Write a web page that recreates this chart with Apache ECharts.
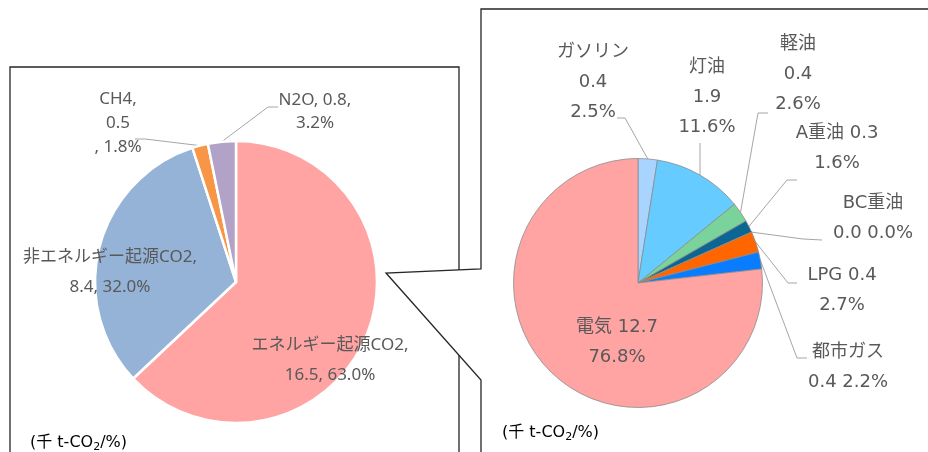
<!DOCTYPE html>
<html>
<head>
<meta charset="utf-8">
<script src="https://cdn.jsdelivr.net/npm/echarts@6/dist/echarts.min.js"></script>
<style>
html, body { margin: 0; padding: 0; background: #fff; }
#main { width: 928px; height: 452px; }
</style>
</head>
<body>
<div id="main"></div>
<script>
// left pie: GHG by gas (千 t-CO2)
const gasNames = ['エネルギー起源CO2', '非エネルギー起源CO2', 'CH4', 'N2O']
const gasValues = ['16.5', '8.4', '0.5', '0.8']
const gasPct = [63.0, 32.0, 1.8, 3.2]
const gasColors = ['#FFA3A3', '#95B3D7', '#F79646', '#B3A2C7']

// right pie: energy CO2 by fuel
const fuelNames = ['ガソリン', '灯油', '軽油', 'A重油', 'BC重油', 'LPG', '都市ガス', '電気']
const fuelValues = ['0.4', '1.9', '0.4', '0.3', '0.0', '0.4', '0.4', '12.7']
const fuelPct = [2.5, 11.6, 2.6, 1.6, 0.0, 2.7, 2.2, 76.8]
const fuelColors = ['#A9D4FF', '#66CCFF', '#7AD39A', '#0B6694', '#1F3864', '#FF6600', '#0A7CFF', '#FFA3A3']

const unitText = '{a|(千 t-CO}{s|2}{a|/%)}'

// label text layouts (not data)
const pct = (v) => v.toFixed(1) + '%'
const gasText = [
    (i) => gasNames[i] + ',\n' + gasValues[i] + ', ' + pct(gasPct[i]),
    (i) => gasNames[i] + ',\n' + gasValues[i] + ', ' + pct(gasPct[i]),
    (i) => gasNames[i] + ',\n' + gasValues[i] + '\n, ' + pct(gasPct[i]),
    (i) => gasNames[i] + ', ' + gasValues[i] + ',\n' + pct(gasPct[i])
]
const gasLabelPos = [[330, 360], [110, 272], [118, 123], [315, 112]]
const gasLineHeight = [30, 30, 24, 23]
// leader: [elbow, end] ; start point comes from the slice
const gasLeader = [null, null, [[145, 139], [135, 139]], [[268, 107], [278, 107]]]

const threeLine = (i) => fuelNames[i] + '\n' + fuelValues[i] + '\n' + pct(fuelPct[i])
const nameVal = (i) => fuelNames[i] + ' ' + fuelValues[i] + '\n' + pct(fuelPct[i])
const nameOnly = (i) => fuelNames[i] + '\n' + fuelValues[i] + ' ' + pct(fuelPct[i])
const fuelText = [threeLine, threeLine, threeLine, nameVal, nameOnly, nameVal, nameOnly, nameVal]
const fuelLabelPos = [[593, 82], [707, 97], [798, 74], [837, 148], [873, 218], [842, 290], [848, 367], [617, 342]]
const fuelLeader = [
    [[625, 118], [617, 118]],
    [[700, 150], [700, 143]],
    [[758, 113], [768, 113]],
    [[787, 180], [797, 180]],
    [[803, 239], [822, 240]],
    [[788, 283], [797, 283]],
    [[797, 358], [807, 358]],
    null
]

const latinFont = "'Noto Sans', 'Noto Sans CJK JP', sans-serif"
const fontFam = "'DejaVu Sans', 'Noto Sans CJK JP', sans-serif"
const textColor = '#595959'

const gasData = gasNames.map((n, i) => ({
    name: n,
    value: gasPct[i],
    itemStyle: { color: gasColors[i] },
    label: { formatter: gasText[i](i), lineHeight: gasLineHeight[i] },
    labelLine: { show: !!gasLeader[i] }
}))

const fuelData = fuelNames.map((n, i) => ({
    name: n,
    value: fuelPct[i],
    itemStyle: { color: fuelColors[i] },
    label: { formatter: fuelText[i](i) },
    labelLine: { show: !!fuelLeader[i] }
}))

function makeLayout(pos, leaders) {
    return (p) => {
        const out = {
            x: pos[p.dataIndex][0],
            y: pos[p.dataIndex][1],
            align: 'center',
            verticalAlign: 'middle'
        }
        const ld = leaders[p.dataIndex]
        if (ld && p.labelLinePoints) {
            out.labelLinePoints = [p.labelLinePoints[0], ld[0], ld[1]]
        }
        return out
    }
}

const chart = echarts.init(document.getElementById('main'), null, { renderer: 'canvas' })

const captionRich = {
    a: { fontFamily: fontFam, fontSize: 16, color: '#404040', lineHeight: 20 },
    s: { fontFamily: fontFam, fontSize: 11, color: '#404040', lineHeight: 12, verticalAlign: 'bottom' }
}

const option = {
    backgroundColor: '#fff',
    animation: false,
    graphic: [
        {
            type: 'rect',
            shape: { x: 10, y: 67, width: 449, height: 420 },
            style: { fill: '#fff', stroke: '#262626', lineWidth: 1.3 }
        },
        {
            type: 'polygon',
            shape: {
                points: [[481, 9], [950, 9], [950, 470], [481, 470], [481, 380], [386, 273], [481, 269]]
            },
            style: { fill: '#fff', stroke: '#262626', lineWidth: 1.3 }
        },
        {
            type: 'text',
            x: 30, y: 443,
            style: { text: unitText, verticalAlign: 'middle', rich: captionRich }
        },
        {
            type: 'text',
            x: 502, y: 433,
            style: { text: unitText, verticalAlign: 'middle', rich: captionRich }
        }
    ],
    series: [
        {
            type: 'pie',
            center: [236, 282],
            radius: 141,
            startAngle: 90,
            clockwise: true,
            avoidLabelOverlap: false,
            itemStyle: { borderColor: '#fff', borderWidth: 2.5 },
            label: {
                show: true,
                position: 'outside',
                fontFamily: latinFont,
                fontSize: 17,
                color: textColor,
                align: 'center'
            },
            labelLine: {
                length: 10,
                length2: 10,
                lineStyle: { color: '#A6A6A6', width: 1 }
            },
            labelLayout: makeLayout(gasLabelPos, gasLeader),
            emphasis: { disabled: true },
            data: gasData
        },
        {
            type: 'pie',
            center: [638, 283],
            radius: 124.5,
            startAngle: 90,
            clockwise: true,
            avoidLabelOverlap: false,
            itemStyle: { borderColor: '#8C8C8C', borderWidth: 0.8 },
            label: {
                show: true,
                position: 'outside',
                fontFamily: fontFam,
                fontSize: 18,
                lineHeight: 30,
                color: textColor,
                align: 'center'
            },
            labelLine: {
                length: 10,
                length2: 10,
                lineStyle: { color: '#A6A6A6', width: 1 }
            },
            labelLayout: makeLayout(fuelLabelPos, fuelLeader),
            emphasis: { disabled: true },
            data: fuelData
        }
    ]
}

chart.setOption(option)
</script>
</body>
</html>
